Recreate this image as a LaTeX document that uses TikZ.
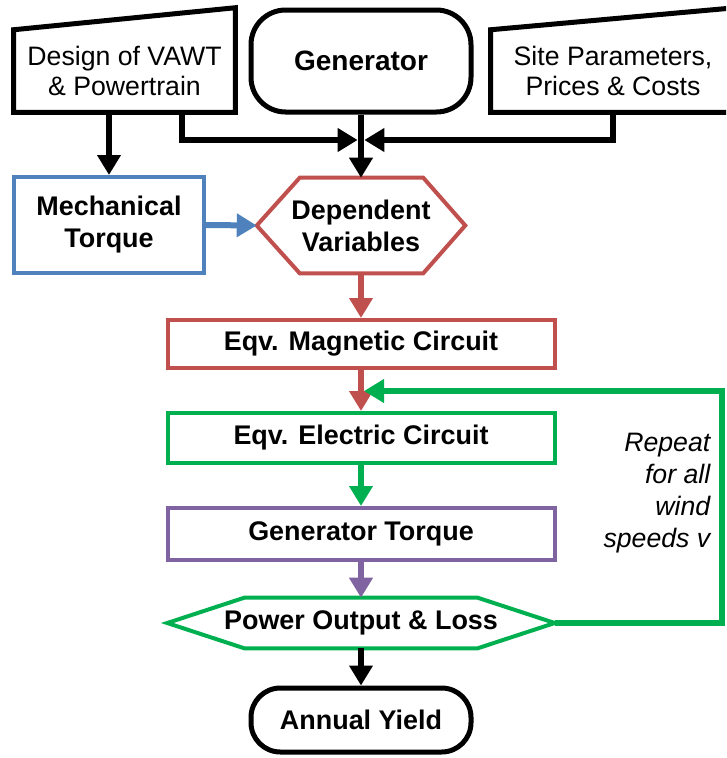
\documentclass[tikz,border=0pt]{standalone}
\usepackage{fontspec}
\setmainfont{Liberation Sans}
\usetikzlibrary{arrows.meta,calc}
\definecolor{cblue}{HTML}{4F81BD}
\definecolor{cred}{HTML}{C0504D}
\definecolor{cgreen}{HTML}{00B050}
\definecolor{cpurple}{HTML}{8064A2}
\tikzset{
  box/.style 2 args={minimum width=#1*0.75pt, minimum height=#2*0.75pt, inner sep=0pt, align=center},
  bold/.style={font={\fontsize{20.2pt}{24pt}\selectfont\bfseries}},
  plain/.style={font={\fontsize{20pt}{23pt}\selectfont}},
  blackline/.style={line width=3.75pt, draw=black, line join=miter},
  colline/.style={line width=3pt, draw=#1, line join=miter},
  arr/.style={line width=4.5pt, #1, line join=miter, -{Triangle[length=15pt,width=17pt]}},
  arr/.default=black
}
\begin{document}
\begin{tikzpicture}[x=0.75pt,y=-0.75pt, font={\fontsize{20pt}{24pt}\selectfont}]
\useasboundingbox (0,0) rectangle (726,758);
\clip (0,0) rectangle (726,758);

% inputs
\node[box={221}{82}, plain] (design) at (124.5,71) {Design of VAWT\\\& Powertrain};
\draw[blackline] (design.south west) -- (design.north west) -- ([yshift=16.5pt]design.north east) -- (design.south east) -- cycle;

\node[box={244}{82}, plain] (site) at (613,71) {Site Parameters,\\Prices \& Costs};
\draw[blackline] (site.south east) -- (site.south west) -- (site.north west) -- ([yshift=16.5pt]site.north east) -- cycle;

\node[blackline, rounded corners=26pt, box={220}{102}, font={\fontsize{21pt}{24pt}\selectfont\bfseries}] (gen) at (361,61) {Generator};

% second row
\node[colline=cblue, box={190}{96}, bold] (mech) at (109,225) {Mechanical\\Torque};
\node[box={208}{95}, bold] (dep) at (361,225.5) {Dependent\\Variables};
\draw[colline=cred] (dep.west) -- ([xshift=32.25pt]dep.north west) -- ([xshift=-31.5pt]dep.north east) -- (dep.east) -- ([xshift=-31.5pt]dep.south east) -- ([xshift=32.25pt]dep.south west) -- cycle;

% chain
\node[colline=cred, box={387}{48}, bold] (mag) at (361,344) {Eqv. Magnetic Circuit};
\node[colline=cgreen, box={387}{50}, bold] (elec) at (361,438) {Eqv. Electric Circuit};
\node[colline=cpurple, box={387}{52}, bold] (gtq) at (361,534) {Generator Torque};
\node[box={387}{50}, bold] (pow) at (361,623) {Power Output \& Loss};
\draw[colline=cgreen] (pow.west) -- ([xshift=57.75pt]pow.north west) -- ([xshift=-57.75pt]pow.north east) -- (pow.east) -- ([xshift=-57.75pt]pow.south east) -- ([xshift=57.75pt]pow.south west) -- cycle;
\node[blackline, rounded corners=22pt, box={220}{64}, bold] (annual) at (361,720) {Annual Yield};

\node[anchor=east, align=right, font={\fontsize{20pt}{24pt}\selectfont\itshape}] (rep) at (715,493) {Repeat\\for all\\wind\\speeds v};

% connectors
\coordinate (jn) at (361,140);
\coordinate (fbc) at (722,391);
\coordinate (fb) at (364,391);
\draw[arr] (mech.north |- design.south) -- (mech.north);
\draw[arr] ([xshift=126pt]design.south west) |- ([xshift=-2.5pt]jn);
\draw[arr] ([xshift=91.5pt]site.south west) |- ([xshift=2.5pt]jn);
\draw[arr] (gen.south) -- (dep.north);
\draw[arr=cblue] (mech.east) -- (dep.west);
\draw[arr=cred] (dep.south) -- (mag.north);
\draw[arr=cred] (mag.south) -- (elec.north);
\draw[arr=cgreen] (elec.south) -- (gtq.north);
\draw[arr=cpurple] (gtq.south) -- (pow.north);
\draw[arr] (pow.south) -- (annual.north);
\draw[arr=cgreen, line width=4pt] (pow.east) -| (fbc) -- (fb);
\end{tikzpicture}
\end{document}
